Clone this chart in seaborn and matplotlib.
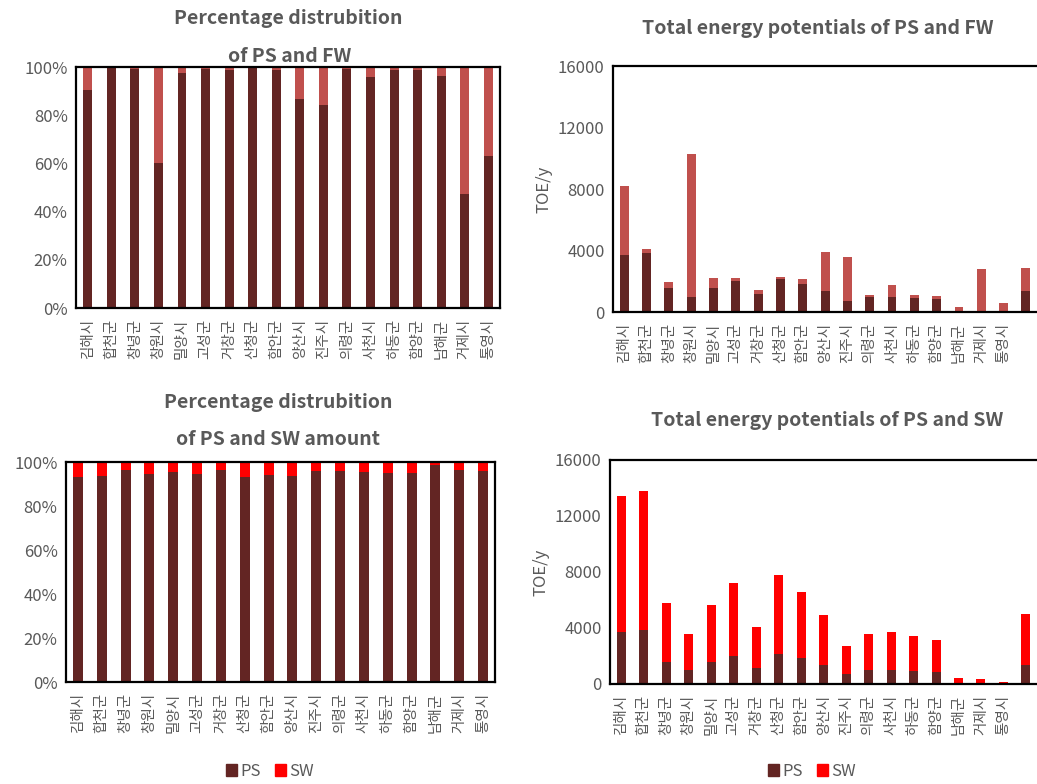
import matplotlib
matplotlib.use("Agg")
import matplotlib.pyplot as plt
import matplotlib.patches as mpatches
import seaborn as sns

# regions (the energy charts have one extra, unlabelled bar at the end)
regions = ["김해시", "합천군", "창녕군", "창원시", "밀양시", "고성군", "거창군", "산청군", "함안군",
           "양산시", "진주시", "의령군", "사천시", "하동군", "함양군", "남해군", "거제시", "통영시"]
regions_energy = regions + [" "]

# percentage share of PS (rest is FW / SW)
ps_pct_fw = [90.3, 99.4, 99.0, 60.0, 97.4, 99.0, 98.6, 99.4, 98.6,
             86.6, 84.1, 99.0, 95.7, 98.6, 98.6, 96.1, 47.2, 62.9]
ps_pct_sw = [93.2, 93.8, 96.4, 94.6, 95.5, 94.6, 96.4, 93.2, 94.1,
             93.8, 95.9, 95.9, 95.5, 95.0, 95.0, 98.6, 96.4, 95.9]

# energy potentials, TOE/y
ps_toe = [3730, 3860, 1590, 980, 1590, 2000, 1150, 2165, 1820,
          1350, 737, 1010, 1010, 940, 870, 90, 90, 20, 1380]
fw_toe = [4480, 250, 380, 9300, 640, 230, 300, 130, 345,
          2570, 2860, 120, 765, 190, 190, 256, 2725, 586, 1500]
sw_toe = [9700, 9930, 4210, 2610, 4070, 5230, 2940, 5630, 4765,
          3595, 2000, 2580, 2720, 2510, 2290, 362, 290, 146, 3636]

PS_COLOR = "#632523"
FW_COLOR = "#C0504D"
SW_COLOR = "#FF0000"
GRAY = "#595959"

sns.set_style("white")
plt.rcParams["font.family"] = ["Noto Sans CJK KR", "DejaVu Sans"]

fig = plt.figure(figsize=(10.37, 7.84), dpi=100)

ax_tl = fig.add_axes([0.0733, 0.6071, 0.4089, 0.3074])
ax_tr = fig.add_axes([0.5911, 0.6020, 0.4090, 0.3138])
ax_bl = fig.add_axes([0.0636, 0.1301, 0.4137, 0.2806])
ax_br = fig.add_axes([0.5882, 0.1276, 0.4120, 0.2857])


def stacked(ax, cats, bottom_vals, top_vals, top_color, width):
    totals = [b + t for b, t in zip(bottom_vals, top_vals)]
    sns.barplot(x=cats, y=totals, color=top_color, width=width, ax=ax,
                saturation=1, order=cats, linewidth=0, edgecolor="none")
    sns.barplot(x=cats, y=bottom_vals, color=PS_COLOR, width=width, ax=ax,
                saturation=1, order=cats, linewidth=0, edgecolor="none")
    ax.set_xlim(-0.5, len(cats) - 0.5)
    ax.tick_params(axis="x", labelrotation=90, labelsize=10.5, colors=GRAY, length=0, pad=8)
    ax.tick_params(axis="y", labelsize=12, colors=GRAY, length=0, pad=6)
    for s in ax.spines.values():
        s.set_color("black")
        s.set_linewidth(1.6)


# percentage charts
stacked(ax_tl, regions, ps_pct_fw, [100 - v for v in ps_pct_fw], FW_COLOR, 0.38)
stacked(ax_bl, regions, ps_pct_sw, [100 - v for v in ps_pct_sw], SW_COLOR, 0.42)
for ax in (ax_tl, ax_bl):
    ax.set_ylim(0, 100)
    ax.set_yticks(range(0, 101, 20))
    ax.set_yticklabels([f"{v}%" for v in range(0, 101, 20)])

# energy charts
stacked(ax_tr, regions_energy, ps_toe, fw_toe, FW_COLOR, 0.4)
stacked(ax_br, regions_energy, ps_toe, sw_toe, SW_COLOR, 0.4)
for ax in (ax_tr, ax_br):
    ax.set_ylim(0, 16000)
    ax.set_yticks(range(0, 16001, 4000))
    ax.set_ylabel("TOE/y", fontsize=12, color=GRAY, labelpad=4)
    ax.spines["right"].set_visible(False)

# titles
title_kw = dict(fontsize=14, fontweight="bold", color=GRAY, ha="center", va="center")
fig.text(0.278, 1 - 18 / 784, "Percentage distrubition", **title_kw)
fig.text(0.279, 1 - 56 / 784, "of PS and FW", **title_kw)
fig.text(0.789, 1 - 28 / 784, "Total energy potentials of PS and FW", **title_kw)
fig.text(0.268, 1 - 402 / 784, "Percentage distrubition", **title_kw)
fig.text(0.268, 1 - 440 / 784, "of PS and SW amount", **title_kw)
fig.text(0.798, 1 - 420 / 784, "Total energy potentials of PS and SW", **title_kw)

# legends for the bottom charts
handles = [mpatches.Patch(color=PS_COLOR, label="PS"),
           mpatches.Patch(color=SW_COLOR, label="SW")]
for x in (270 / 1037, 812 / 1037):
    fig.legend(handles=handles, loc="center", bbox_to_anchor=(x, 1 - 771 / 784),
               ncol=2, frameon=False, fontsize=12, labelcolor=GRAY,
               handlelength=0.7, handleheight=0.7, handletextpad=0.2, columnspacing=0.8)

fig.savefig("out.png", dpi=100)
